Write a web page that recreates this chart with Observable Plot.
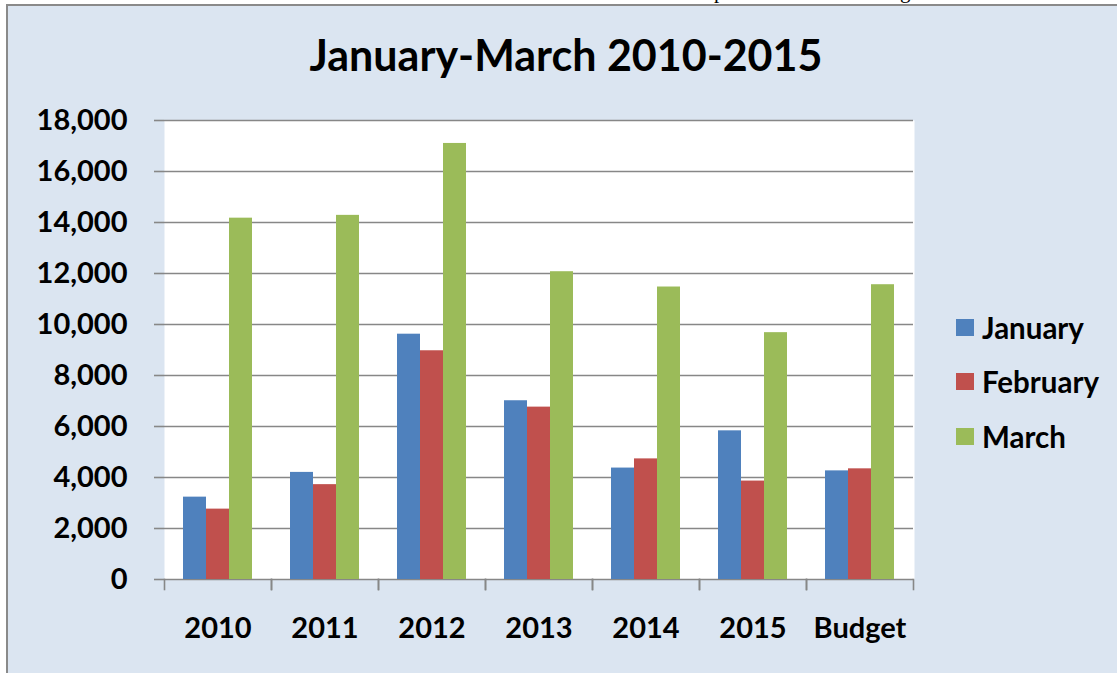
<!DOCTYPE html>
<html>
<head>
<meta charset="utf-8">
<script src="https://cdn.jsdelivr.net/npm/d3@7"></script>
<script src="https://cdn.jsdelivr.net/npm/@observablehq/plot@0.6"></script>
<style>
  html, body { margin: 0; padding: 0; background: #ffffff; width: 1117px; height: 673px; overflow: hidden; }
  #box { position: absolute; left: 6px; top: 4px; width: 1200px; height: 800px; background: #dbe5f1;
         border-left: 2px solid #8a8a8a; border-top: 2px solid #8a8a8a; }
  #clip { position: absolute; left: 0; top: 0; width: 1117px; height: 4px; overflow: hidden; }
  #clip span { position: absolute; top: -18.6px; font-family: "Liberation Serif", serif; font-size: 21px; line-height: 21px; color: #000; }
  #title { position: absolute; left: 0; top: 33px; width: 1132px; text-align: center;
           font-family: Lato, sans-serif; font-weight: bold; font-size: 43px; color: #000; line-height: 1; }
  #chart { position: absolute; left: 0; top: 0; }
  #legend { position: absolute; left: 956px; top: 300px; font-family: Lato, sans-serif; font-weight: bold;
            font-size: 29.5px; color: #000; }
  .item { display: flex; align-items: center; height: 54.5px; }
  .sw { width: 18px; height: 17px; margin-right: 8px; }
  .item span { line-height: 1; }
</style>
</head>
<body>
<div id="clip"><span style="left:714px">p</span><span style="left:900px">g</span></div>
<div id="box"></div>
<div id="title">January-March 2010-2015</div>
<div id="chart"></div>
<div id="legend"></div>
<script>
const categories = ["2010", "2011", "2012", "2013", "2014", "2015", "Budget"];
const months = ["January", "February", "March"];
const january  = [3230, 4200, 9620, 7010, 4370, 5830, 4260];
const february = [2760, 3720, 8970, 6760, 4730, 3860, 4340];
const march    = [14170, 14280, 17100, 12070, 11470, 9680, 11560];
const yTicks = [0, 2000, 4000, 6000, 8000, 10000, 12000, 14000, 16000, 18000];
const colors = ["#4f81bd", "#c0504d", "#9bbb59"];

const series = [january, february, march];
const data = categories.flatMap((c, i) => months.map((m, j) => ({category: c, month: m, value: series[j][i]})));

const W = 1117, H = 673, mL = 163, mR = 204, mT = 120, mB = 94;
const step = (W - mL - mR) / categories.length;
const innerH = H - mT - mB;
const grey = "#878787";

const chart = Plot.plot({
  width: W, height: H,
  marginLeft: mL, marginRight: mR, marginTop: mT, marginBottom: mB,
  style: {background: "transparent", fontFamily: "Lato, sans-serif", fontWeight: "bold", fontSize: "29px", color: "#000"},
  fx: {domain: categories, padding: 0, label: null, axis: null},
  x: {domain: months, paddingInner: 0, paddingOuter: 0.78, axis: null},
  y: {domain: [0, 18000], label: null, axis: null},
  color: {domain: months, range: colors},
  marks: [
    Plot.frame({fill: "white", stroke: null, insetRight: -1}),
    Plot.gridY(yTicks, {stroke: grey, strokeOpacity: 1, strokeWidth: 1.6}),
    Plot.barY(data, {fx: "category", x: "month", y: "value", fill: "month"}),
    Plot.ruleX([categories[0]], {fx: d => d, y1: 0, y2: 18000, dx: -step / 2, stroke: grey, strokeWidth: 1.6}),
    Plot.frame({anchor: "left", insetTop: innerH, insetBottom: -10, stroke: grey, strokeWidth: 1.6}),
    Plot.frame({anchor: "right", insetTop: innerH, insetBottom: -10, stroke: grey, strokeWidth: 1.6}),
    Plot.axisY(yTicks, {tickFormat: d3.format(","), tickSize: 10, tickPadding: 27, stroke: grey, strokeWidth: 1.6, label: null, fill: "#000"}),
    Plot.axisFx({anchor: "bottom", tickSize: 0, tickPadding: 38, label: null, fill: "#000"})
  ]
});
document.getElementById("chart").appendChild(chart);

const legend = document.getElementById("legend");
months.forEach((m, j) => {
  const it = document.createElement("div");
  it.className = "item";
  const sw = document.createElement("div");
  sw.className = "sw";
  sw.style.background = colors[j];
  const t = document.createElement("span");
  t.textContent = m;
  it.appendChild(sw); it.appendChild(t);
  legend.appendChild(it);
});
</script>
</body>
</html>
